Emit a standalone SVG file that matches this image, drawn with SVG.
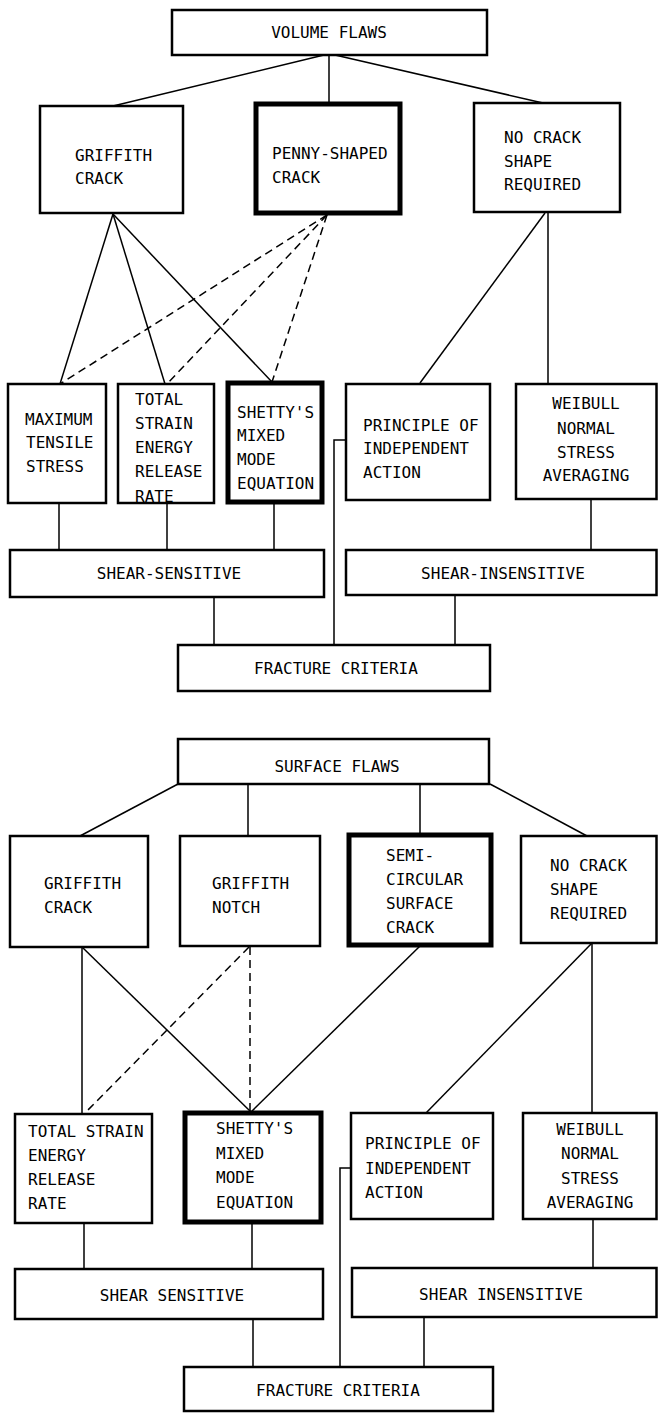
<svg xmlns="http://www.w3.org/2000/svg" width="658" height="1413" viewBox="0 0 658 1413">
<style>
.bg{fill:#fff}
.box{fill:#fff;stroke:#000;stroke-width:2.5}
.thick{stroke-width:5}
.t{font-family:"DejaVu Sans Mono","Liberation Mono",monospace;font-size:16px;fill:#000}
.c{text-anchor:middle}
.ln{stroke:#000;stroke-width:1.5;fill:none}
.dash{stroke-dasharray:8 5}
</style>
<rect class="bg" x="0" y="0" width="658" height="1413"/>
<g id="connectors">
  <!-- volume flaws -->
  <line class="ln" x1="324" y1="55" x2="113" y2="106"/>
  <line class="ln" x1="329" y1="55" x2="329" y2="103"/>
  <line class="ln" x1="335" y1="55" x2="543" y2="103"/>
  <line class="ln" x1="113" y1="214" x2="60" y2="384"/>
  <line class="ln" x1="113" y1="214" x2="165" y2="384"/>
  <line class="ln" x1="113" y1="214" x2="272" y2="382"/>
  <line class="ln dash" x1="327" y1="215" x2="60" y2="384"/>
  <line class="ln dash" x1="327" y1="215" x2="167" y2="384"/>
  <line class="ln dash" x1="327" y1="215" x2="272" y2="382"/>
  <line class="ln" x1="545" y1="213" x2="420" y2="383"/>
  <line class="ln" x1="548" y1="213" x2="548" y2="383"/>
  <line class="ln" x1="59" y1="503" x2="59" y2="550"/>
  <line class="ln" x1="167" y1="503" x2="167" y2="550"/>
  <line class="ln" x1="274" y1="503" x2="274" y2="550"/>
  <line class="ln" x1="591" y1="499" x2="591" y2="550"/>
  <polyline class="ln" points="346,440 334,440 334,645"/>
  <line class="ln" x1="214" y1="597" x2="214" y2="645"/>
  <line class="ln" x1="455" y1="595" x2="455" y2="645"/>
  <!-- surface flaws -->
  <line class="ln" x1="178" y1="784" x2="80" y2="836"/>
  <line class="ln" x1="248" y1="784" x2="248" y2="836"/>
  <line class="ln" x1="420" y1="784" x2="420" y2="833"/>
  <line class="ln" x1="490" y1="784" x2="587" y2="836"/>
  <line class="ln" x1="82" y1="947" x2="82" y2="1114"/>
  <line class="ln" x1="82" y1="947" x2="251" y2="1112"/>
  <line class="ln dash" x1="249" y1="947" x2="84" y2="1114"/>
  <line class="ln dash" x1="250" y1="947" x2="250" y2="1112"/>
  <line class="ln" x1="420" y1="946" x2="251" y2="1112"/>
  <line class="ln" x1="592" y1="943" x2="426" y2="1113"/>
  <line class="ln" x1="592" y1="943" x2="592" y2="1113"/>
  <line class="ln" x1="84" y1="1223" x2="84" y2="1269"/>
  <line class="ln" x1="252" y1="1223" x2="252" y2="1269"/>
  <line class="ln" x1="593" y1="1219" x2="593" y2="1268"/>
  <polyline class="ln" points="351,1168 340,1168 340,1367"/>
  <line class="ln" x1="253" y1="1319" x2="253" y2="1367"/>
  <line class="ln" x1="424" y1="1317" x2="424" y2="1367"/>
</g>
<g id="volume-flaws"><rect class="box" x="172" y="10" width="315" height="45"/><text class="t c" x="329" y="38">VOLUME FLAWS</text></g>
<g id="v-griffith-crack"><rect class="box" x="40" y="106" width="143" height="107"/><text class="t" x="75" y="161">GRIFFITH</text><text class="t" x="75" y="184">CRACK</text></g>
<g id="v-penny"><rect class="box thick" x="256" y="104" width="144" height="109"/><text class="t" x="272" y="159">PENNY-SHAPED</text><text class="t" x="272" y="183">CRACK</text></g>
<g id="v-no-crack"><rect class="box" x="474" y="103" width="146" height="109"/><text class="t" x="504" y="143">NO CRACK</text><text class="t" x="504" y="167">SHAPE</text><text class="t" x="504" y="190">REQUIRED</text></g>
<g id="v-max-tensile"><rect class="box" x="8" y="384" width="98" height="119"/><text class="t" x="25" y="425">MAXIMUM</text><text class="t" x="26" y="448">TENSILE</text><text class="t" x="26" y="472">STRESS</text></g>
<g id="v-total-strain"><rect class="box" x="118" y="384" width="96" height="119"/><text class="t" x="135" y="405">TOTAL</text><text class="t" x="135" y="429">STRAIN</text><text class="t" x="135" y="453">ENERGY</text><text class="t" x="135" y="477">RELEASE</text><text class="t" x="135" y="502">RATE</text></g>
<g id="v-shetty"><rect class="box thick" x="228" y="383" width="94" height="119"/><text class="t" x="237" y="418">SHETTY'S</text><text class="t" x="237" y="441">MIXED</text><text class="t" x="237" y="465">MODE</text><text class="t" x="237" y="489">EQUATION</text></g>
<g id="v-principle"><rect class="box" x="346" y="384" width="144" height="116"/><text class="t" x="363" y="431">PRINCIPLE OF</text><text class="t" x="363" y="454">INDEPENDENT</text><text class="t" x="363" y="478">ACTION</text></g>
<g id="v-weibull"><rect class="box" x="516" y="384" width="140.5" height="115"/><text class="t c" x="586" y="409">WEIBULL</text><text class="t c" x="586" y="434">NORMAL</text><text class="t c" x="586" y="458">STRESS</text><text class="t c" x="586" y="481">AVERAGING</text></g>
<g id="v-shear-sensitive"><rect class="box" x="10" y="550" width="314" height="47"/><text class="t c" x="169" y="579">SHEAR-SENSITIVE</text></g>
<g id="v-shear-insensitive"><rect class="box" x="346" y="550" width="310.5" height="45"/><text class="t c" x="503" y="579">SHEAR-INSENSITIVE</text></g>
<g id="v-fracture"><rect class="box" x="178" y="645" width="312" height="46"/><text class="t c" x="336" y="674">FRACTURE CRITERIA</text></g>
<g id="surface-flaws"><rect class="box" x="178" y="739" width="311" height="45"/><text class="t c" x="337" y="772">SURFACE FLAWS</text></g>
<g id="s-griffith-crack"><rect class="box" x="10" y="836" width="138" height="111"/><text class="t" x="44" y="889">GRIFFITH</text><text class="t" x="44" y="913">CRACK</text></g>
<g id="s-griffith-notch"><rect class="box" x="180" y="836" width="140" height="110"/><text class="t" x="212" y="889">GRIFFITH</text><text class="t" x="212" y="913">NOTCH</text></g>
<g id="s-semi"><rect class="box thick" x="349" y="835" width="142" height="110"/><text class="t" x="386" y="861">SEMI-</text><text class="t" x="386" y="885">CIRCULAR</text><text class="t" x="386" y="909">SURFACE</text><text class="t" x="386" y="933">CRACK</text></g>
<g id="s-no-crack"><rect class="box" x="521" y="836" width="135.5" height="107"/><text class="t" x="550" y="871">NO CRACK</text><text class="t" x="550" y="895">SHAPE</text><text class="t" x="550" y="919">REQUIRED</text></g>
<g id="s-total-strain"><rect class="box" x="15" y="1114" width="137" height="109"/><text class="t" x="28" y="1137">TOTAL STRAIN</text><text class="t" x="28" y="1161">ENERGY</text><text class="t" x="28" y="1185">RELEASE</text><text class="t" x="28" y="1209">RATE</text></g>
<g id="s-shetty"><rect class="box thick" x="185" y="1113" width="136" height="109"/><text class="t" x="216" y="1134">SHETTY'S</text><text class="t" x="216" y="1159">MIXED</text><text class="t" x="216" y="1183">MODE</text><text class="t" x="216" y="1208">EQUATION</text></g>
<g id="s-principle"><rect class="box" x="351" y="1113" width="142" height="106"/><text class="t" x="365" y="1149">PRINCIPLE OF</text><text class="t" x="365" y="1174">INDEPENDENT</text><text class="t" x="365" y="1198">ACTION</text></g>
<g id="s-weibull"><rect class="box" x="523" y="1113" width="133.5" height="106"/><text class="t c" x="590" y="1135">WEIBULL</text><text class="t c" x="590" y="1159">NORMAL</text><text class="t c" x="590" y="1184">STRESS</text><text class="t c" x="590" y="1208">AVERAGING</text></g>
<g id="s-shear-sensitive"><rect class="box" x="15" y="1269" width="308" height="50"/><text class="t c" x="172" y="1301">SHEAR SENSITIVE</text></g>
<g id="s-shear-insensitive"><rect class="box" x="352" y="1268" width="304.5" height="49"/><text class="t c" x="501" y="1300">SHEAR INSENSITIVE</text></g>
<g id="s-fracture"><rect class="box" x="184" y="1367" width="309" height="44"/><text class="t c" x="338" y="1396">FRACTURE CRITERIA</text></g>
</svg>
